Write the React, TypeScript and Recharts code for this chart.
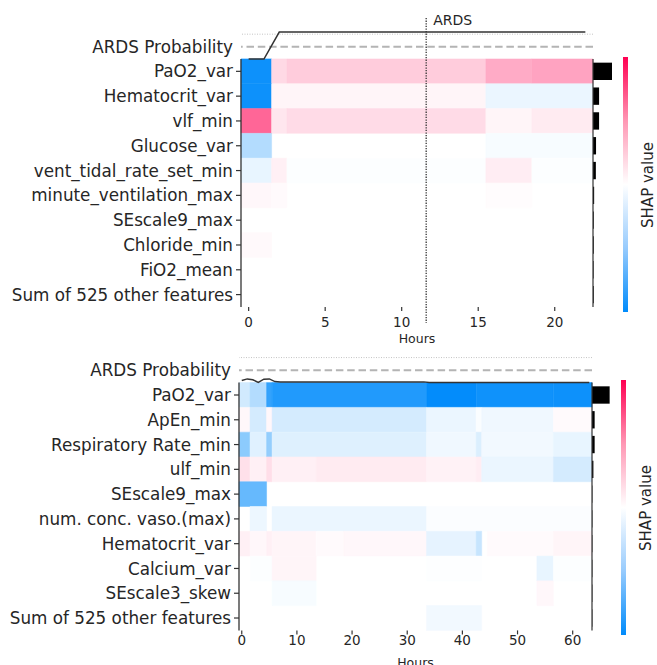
import React from 'react';
import { ComposedChart, XAxis, YAxis, ReferenceArea, ReferenceLine, Line } from 'recharts';

type Seg = [number, number, number]; // first hour, last hour (inclusive), SHAP value (scaled -1..1)

// ---------------- Top panel ----------------
const topFeatures = [
  'PaO2_var',
  'Hematocrit_var',
  'vlf_min',
  'Glucose_var',
  'vent_tidal_rate_set_min',
  'minute_ventilation_max',
  'SEscale9_max',
  'Chloride_min',
  'FiO2_mean',
  'Sum of 525 other features',
];
const topHourTicks = [0, 5, 10, 15, 20];
const topHours = [0, 1, 2, 3, 4, 5, 6, 7, 8, 9, 10, 11, 12, 13, 14, 15, 16, 17, 18, 19, 20, 21, 22];
const topProb = [0, 0, 1, 1, 1, 1, 1, 1, 1, 1, 1, 1, 1, 1, 1, 1, 1, 1, 1, 1, 1, 1, 1];
const topImportance = [1.0, 0.32, 0.32, 0.16, 0.15, 0.06, 0.04, 0.04, 0.03, 0.04];
const topShap: Seg[][] = [
  [[0, 1, -0.95], [2, 2, 0.15], [3, 15, 0.2], [16, 18, 0.33], [19, 22, 0.36]],
  [[0, 1, -0.95], [2, 15, 0.04], [16, 22, -0.08]],
  [[0, 1, 0.6], [2, 2, 0.1], [3, 15, 0.14], [16, 18, 0.04], [19, 22, 0.08]],
  [[0, 1, -0.3], [16, 22, -0.03]],
  [[0, 1, -0.09], [2, 2, 0.06], [3, 15, -0.012], [16, 18, 0.07], [19, 22, -0.012]],
  [[0, 1, 0.03], [2, 2, 0.02], [16, 18, 0.012]],
  [],
  [[0, 1, 0.025]],
  [],
  [],
];
const topEventHour = 11.6;
const topEventLabel = 'ARDS';

// ---------------- Bottom panel ----------------
const bottomFeatures = [
  'PaO2_var',
  'ApEn_min',
  'Respiratory Rate_min',
  'ulf_min',
  'SEscale9_max',
  'num. conc. vaso.(max)',
  'Hematocrit_var',
  'Calcium_var',
  'SEscale3_skew',
  'Sum of 525 other features',
];
const bottomHourTicks = [0, 10, 20, 30, 40, 50, 60];
const bottomHours = [
  0, 1, 2, 3, 4, 5, 6, 7, 8, 9, 10, 11, 12, 13, 14, 15, 16, 17, 18, 19, 20, 21, 22, 23, 24, 25, 26, 27, 28, 29, 30, 31,
  32, 33, 34, 35, 36, 37, 38, 39, 40, 41, 42, 43, 44, 45, 46, 47, 48, 49, 50, 51, 52, 53, 54, 55, 56, 57, 58, 59, 60, 61,
  62, 63,
];
const bottomProb = [
  0.07, 0.13, 0.1, 0.0, 0.12, 0.13, 0.03, 0.02, 0.02, 0.02, 0.02, 0.02, 0.02, 0.02, 0.02, 0.02, 0.02, 0.02, 0.02, 0.02,
  0.02, 0.02, 0.02, 0.02, 0.02, 0.02, 0.02, 0.02, 0.02, 0.02, 0.02, 0.02, 0.02, 0.02, 0.0, 0.0, 0.0, 0.0, 0.0, 0.0, 0.0,
  0.0, 0.0, 0.0, 0.0, 0.0, 0.0, 0.0, 0.0, 0.0, 0.0, 0.0, 0.0, 0.0, 0.0, 0.0, 0.0, 0.0, 0.0, 0.0, 0.0, 0.0, 0.0, 0.0,
];
const bottomImportance = [1.0, 0.15, 0.15, 0.08, 0.02, 0.02, 0.02, 0.02, 0.02, 0.02];
const bottomShap: Seg[][] = [
  [[0, 1, -0.18], [2, 4, -0.3], [5, 5, -0.8], [6, 33, -0.87], [34, 42, -0.99], [43, 56, -0.94], [57, 63, -0.95]],
  [[0, 1, 0.03], [2, 4, -0.17], [5, 5, 0.03], [6, 33, -0.17], [34, 42, -0.08], [43, 43, -0.02], [44, 56, -0.06], [57, 63, 0.02]],
  [[0, 1, -0.45], [2, 4, -0.12], [5, 5, -0.42], [6, 33, -0.13], [34, 42, -0.06], [43, 43, -0.14], [44, 56, -0.05], [57, 63, -0.09]],
  [[0, 1, 0.12], [2, 4, 0.06], [5, 5, 0.13], [6, 13, 0.06], [14, 33, 0.08], [34, 42, 0.05], [43, 43, 0.07], [44, 56, -0.08], [57, 63, -0.17]],
  [[0, 4, -0.6]],
  [[2, 4, -0.07], [6, 33, -0.08], [34, 63, -0.015]],
  [[0, 1, 0.06], [2, 4, 0.03], [5, 5, 0.06], [6, 13, 0.04], [14, 18, 0.02], [19, 33, 0.03], [34, 42, -0.1], [43, 43, -0.22], [45, 56, 0.02], [57, 63, 0.04]],
  [[2, 5, -0.01], [6, 13, 0.04], [34, 43, -0.006], [54, 56, -0.09], [57, 63, -0.01]],
  [[6, 13, -0.03], [54, 56, 0.03]],
  [[34, 43, -0.05]],
];

// reference levels of the probability strip
const probDashed = 0.45;
const probDotted = 0.92;

// ---------------- helpers ----------------
const RED = [255, 0, 82];
const BLUE = [0, 139, 251];
function shapColor(v: number): string {
  const c = v >= 0 ? RED : BLUE;
  const t = Math.min(1, Math.abs(v));
  const m = (i: number) => Math.round(255 + (c[i] - 255) * t);
  return `rgb(${m(0)},${m(1)},${m(2)})`;
}

const TEXT = '#262626';
const AXIS = '#333333';
const BAR_HALF = 0.35;

const RowTick = (props: any) => {
  const { x, y, payload, features } = props;
  const idx = payload.value as number;
  const label = idx < 0 ? 'ARDS Probability' : features[idx];
  return (
    <g>
      {idx >= 0 && <line x1={x + 3} x2={x + 8} y1={y} y2={y} stroke={AXIS} strokeWidth={1.2} />}
      <text x={x} y={y} dy="0.36em" textAnchor="end" fontSize={16.8} fill={TEXT}>
        {label}
      </text>
    </g>
  );
};

type PanelProps = {
  features: string[];
  hours: number[];
  prob: number[];
  importance: number[];
  shap: Seg[][];
  hourTicks: number[];
  hourDomain: [number, number];
  rowDomain: [number, number];
  probDomain: [number, number];
  impDomain: [number, number];
  height: number;
  margin: { top: number; right: number; bottom: number; left: number };
  yAxisWidth: number;
  xAxisHeight: number;
  tickMargin: number;
  hoursOffset: number;
  eventHour?: number;
  eventLabel?: string;
  eventRange?: [number, number];
};

function Panel(props: PanelProps) {
  const {
    features, hours, prob, importance, shap, hourTicks, hourDomain, rowDomain, probDomain, impDomain,
    height, margin, yAxisWidth, xAxisHeight, tickMargin, hoursOffset, eventHour, eventLabel, eventRange,
  } = props;
  const data = hours.map((h, i) => ({ h, p: prob[i] }));
  const rowTicks = [-1, ...features.map((_, i) => i)];
  const firstH = hours[0] - 0.5;
  const lastH = hours[hours.length - 1] + 0.5;
  const lastRow = features.length - 0.5;

  return (
    <ComposedChart width={657} height={height} data={data} margin={margin}>
      <XAxis
        xAxisId="h"
        type="number"
        dataKey="h"
        domain={hourDomain}
        ticks={hourTicks}
        interval={0}
        allowDataOverflow
        axisLine={false}
        tickLine={{ stroke: AXIS, strokeWidth: 1.2 }}
        tickSize={4}
        tickMargin={tickMargin}
        tick={{ fontSize: 13.5, fill: TEXT }}
        height={xAxisHeight}
        label={{ value: 'Hours', position: 'insideBottom', offset: hoursOffset, fontSize: 12.5, fill: TEXT }}
      />
      <XAxis
        xAxisId="imp"
        type="number"
        dataKey="h"
        orientation="top"
        height={0}
        domain={impDomain}
        hide
        allowDataOverflow
      />
      <YAxis
        yAxisId="row"
        type="number"
        domain={rowDomain}
        reversed
        ticks={rowTicks}
        interval={0}
        allowDataOverflow
        axisLine={false}
        tickLine={false}
        tickSize={5}
        tickMargin={3}
        width={yAxisWidth}
        tick={(p: any) => <RowTick {...p} features={features} />}
      />
      <YAxis yAxisId="prob" type="number" orientation="right" width={0} domain={probDomain} hide allowDataOverflow />

      {shap.flatMap((row, r) =>
        row.map(([from, to, v], k) => (
          <ReferenceArea
            key={`c${r}-${k}`}
            xAxisId="h"
            yAxisId="row"
            x1={from - 0.5}
            x2={to + 0.5}
            y1={r - 0.5}
            y2={r + 0.5}
            fill={shapColor(v)}
            fillOpacity={1}
            stroke={shapColor(v)}
            strokeWidth={0.5}
            ifOverflow="visible"
          />
        ))
      )}

      {importance.map((v, r) => (
        <ReferenceArea
          key={`b${r}`}
          xAxisId="imp"
          yAxisId="row"
          x1={0}
          x2={v}
          y1={r - BAR_HALF}
          y2={r + BAR_HALF}
          fill="#000"
          fillOpacity={1}
          stroke="none"
          ifOverflow="visible"
        />
      ))}

      <ReferenceLine xAxisId="h" yAxisId="prob" y={probDotted} stroke="#c4c4c4" strokeWidth={1} strokeDasharray="1 1.5" />
      <ReferenceLine xAxisId="h" yAxisId="prob" y={probDashed} stroke="#b4b4b4" strokeWidth={2} strokeDasharray="7.5 3.8" />

      <ReferenceLine
        xAxisId="h"
        yAxisId="row"
        segment={[{ x: firstH, y: -0.5 }, { x: firstH, y: lastRow }]}
        stroke={AXIS}
        strokeWidth={1.3}
        ifOverflow="visible"
      />
      <ReferenceLine
        xAxisId="h"
        yAxisId="row"
        segment={[{ x: lastH, y: -0.5 }, { x: lastH, y: lastRow }]}
        stroke={AXIS}
        strokeWidth={1.2}
        ifOverflow="visible"
      />

      {eventHour !== undefined && eventRange && (
        <ReferenceLine
          xAxisId="h"
          yAxisId="row"
          segment={[{ x: eventHour, y: eventRange[0] }, { x: eventHour, y: eventRange[1] }]}
          stroke={AXIS}
          strokeWidth={1.3}
          strokeDasharray="1.3 1.3"
          ifOverflow="visible"
          label={(lp: any) => (
            <text x={lp.viewBox.x + 7} y={lp.viewBox.y + 7} fontSize={14} fill={TEXT}>
              {eventLabel}
            </text>
          )}
        />
      )}

      <Line
        xAxisId="h"
        yAxisId="prob"
        dataKey="p"
        type="linear"
        stroke={AXIS}
        strokeWidth={1.5}
        dot={false}
        activeDot={false}
        isAnimationActive={false}
      />
    </ComposedChart>
  );
}

const ColorBar = ({ left, top, height }: { left: number; top: number; height: number }) => (
  <>
    <div
      style={{
        position: 'absolute',
        left,
        top,
        width: 5,
        height,
        background: 'linear-gradient(to bottom, #ff0052 0%, #ff97b4 25%, #ffffff 50%, #97cbfd 75%, #008bfb 100%)',
      }}
    />
    <div
      style={{
        position: 'absolute',
        left: left + 25,
        top: top + height / 2,
        transform: 'translate(-50%, -50%) rotate(-90deg)',
        whiteSpace: 'nowrap',
        fontSize: 15,
        color: TEXT,
      }}
    >
      SHAP value
    </div>
  </>
);

export default function App() {
  return (
    <div
      style={{
        position: 'absolute',
        left: 0,
        top: 0,
        width: 657,
        height: 665,
        overflow: 'hidden',
        background: '#fff',
        fontFamily: '"DejaVu Sans", sans-serif',
      }}
    >
      <div style={{ position: 'absolute', left: 0, top: 0 }}>
        <Panel
          features={topFeatures}
          hours={topHours}
          prob={topProb}
          importance={topImportance}
          shap={topShap}
          hourTicks={topHourTicks}
          hourDomain={[-0.5, 22.5]}
          rowDomain={[-2.15, 9.5]}
          probDomain={[-9.185, 1.519]}
          impDomain={[-18.5, 0]}
          height={345}
          margin={{ top: 18, right: 64, bottom: 0, left: 0 }}
          yAxisWidth={241}
          xAxisHeight={38}
          tickMargin={6}
          hoursOffset={2.5}
          eventHour={topEventHour}
          eventLabel={topEventLabel}
          eventRange={[-2.15, 10.15]}
        />
      </div>
      <div style={{ position: 'absolute', left: 0, top: 345 }}>
        <Panel
          features={bottomFeatures}
          hours={bottomHours}
          prob={bottomProb}
          importance={bottomImportance}
          shap={bottomShap}
          hourTicks={bottomHourTicks}
          hourDomain={[-0.5, 63.5]}
          rowDomain={[-1.816, 9.5]}
          probDomain={[-9.18, 1.2]}
          impDomain={[-20, 0]}
          height={325}
          margin={{ top: 5, right: 65, bottom: 0, left: 0 }}
          yAxisWidth={239}
          xAxisHeight={39.6}
          tickMargin={1}
          hoursOffset={3}
        />
      </div>
      <ColorBar left={623} top={57} height={255} />
      <ColorBar left={621} top={380} height={255} />
    </div>
  );
}
